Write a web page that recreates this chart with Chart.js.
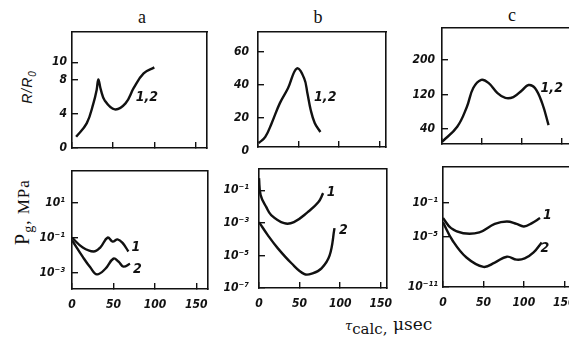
<!DOCTYPE html>
<html><head><meta charset="utf-8">
<script src="https://cdn.jsdelivr.net/npm/chart.js@4"></script>
<style>
html,body{margin:0;padding:0;background:#fff;width:569px;height:341px;overflow:hidden;position:relative}
canvas{position:absolute;background:transparent}
.t{position:absolute;font-family:"Liberation Serif","DejaVu Serif",serif;color:#111;white-space:nowrap;line-height:1}
.c{transform:translate(-50%,-50%)}
.r{transform:translate(-50%,-50%) rotate(-90deg)}
</style></head><body>
<div class="t c" style="left:142px;top:17px;font-size:18px">a</div>
<div class="t c" style="left:318px;top:17px;font-size:18px">b</div>
<div class="t c" style="left:512px;top:15px;font-size:18px">c</div>
<div class="t r" style="left:29px;top:87px;font-size:14px;font-style:italic;font-family:'Liberation Sans',sans-serif;letter-spacing:1px">R/R<sub style="font-size:10px">0</sub></div>
<div class="t r" style="left:24px;top:212px;font-size:17px;letter-spacing:1px"><span style="font-size:20px">P</span><sub style="font-size:14px">g</sub>, MPa</div>
<div class="t" style="left:345px;top:316px;font-family:'DejaVu Serif',serif;font-size:17px"><span style="font-size:13px;font-style:italic">τ</span><sub style="font-size:15px">calc,</sub> μsec</div>
<script>
// ---- data ----
const xTicks = [0, 50, 100, 150];
// top row: R/R0 vs tau (µs)
const tA = [5, 18, 26, 30, 32, 35, 40, 52, 65, 75, 87, 100];
const rA = [1.3, 2.9, 5.2, 6.8, 8.0, 6.8, 5.5, 4.5, 5.2, 7.0, 8.7, 9.4];
const tB = [1, 9, 17, 27, 37, 48, 57, 61, 65, 70, 77];
const rB = [4.8, 8.5, 17, 29, 38, 50, 44, 35, 25, 17, 11.5];
const tC = [0, 19, 31, 39, 49, 58, 69, 79, 89, 100, 108, 116, 125, 133];
const rC = [10, 45, 91, 135, 154, 147, 124, 112, 114, 130, 142, 135, 100, 49];
const yTicksA = [0, 4, 8, 10];
const yTicksB = [0, 20, 40, 60];
const yTicksC = [40, 120, 200];
// bottom row: Pg (MPa), curves 1 and 2
const tPa1 = [0, 13, 26, 34, 43, 49, 55, 61, 68];
const pA1 = [1.0e-1, 2.7e-2, 1.6e-2, 2.7e-2, 1.0e-1, 5.9e-2, 7.9e-2, 5.0e-2, 1.6e-2];
const tPa2 = [0, 13, 22, 30, 40, 50, 56, 62, 70];
const pA2 = [7.1e-2, 7.9e-3, 2.0e-3, 7.9e-4, 1.6e-3, 6.3e-3, 4.3e-3, 2.2e-3, 3.2e-3];
const tPb1 = [0, 2, 9, 15, 31, 43, 60, 73, 79];
const pB1 = [5.5e-1, 5.0e-2, 9.1e-3, 3.0e-3, 9.5e-4, 1.1e-3, 4.5e-3, 1.8e-2, 6.6e-2];
const tPb2 = [0, 11, 23, 40, 56, 66, 77, 87, 93];
const pB2 = [1.1e-3, 1.7e-4, 2.8e-5, 3.3e-6, 7.1e-7, 7.9e-7, 1.6e-6, 1.0e-5, 4.7e-4];
const tPc1 = [0, 10, 25, 45, 64, 79, 91, 100, 110, 120];
const pC1 = [1.6e-3, 1.0e-4, 2.5e-5, 3.2e-5, 3.2e-4, 6.3e-4, 3.2e-4, 1.6e-4, 4.0e-4, 1.6e-3];
const tPc2 = [0, 12, 29, 50, 64, 79, 91, 101, 112, 122];
const pC2 = [5.0e-4, 3.2e-6, 3.2e-8, 2.5e-9, 7.9e-9, 4.0e-8, 1.8e-8, 2.5e-8, 1.3e-7, 2.0e-6];
const pTicksA = [1e1, 1e-1, 1e-3];
const pTicksB = [1e-1, 1e-3, 1e-5, 1e-7];
const pTicksC = [1e-1, 1e-5, 1e-11];

// ---- helpers ----
const SUP = {'-':'⁻','0':'⁰','1':'¹','2':'²','3':'³','4':'⁴','5':'⁵','6':'⁶','7':'⁷','8':'⁸','9':'⁹'};
const pow10 = v => '10' + String(Math.round(Math.log10(v))).split('').map(c => SUP[c]).join('');
const INK = '#111';
const FAM = '"Liberation Sans Narrow","DejaVu Sans Condensed","Liberation Sans",sans-serif';
const tickFont = {family: FAM, size: 12, style: 'italic', weight: 'bold'};
const pts = (xs, ys) => xs.map((x, i) => ({x: x, y: ys[i]}));
const BORDER = {display: true, color: INK, width: 1.6};
const TL = -6; // inward tick marks

const notesPlugin = {
  id: 'notes',
  afterDraw(chart, args, opts) {
    const {ctx, scales} = chart;
    ctx.save();
    ctx.fillStyle = INK;
    ctx.font = 'italic bold 14px ' + FAM;
    ctx.textAlign = 'center';
    ctx.textBaseline = 'middle';
    (opts.items || []).forEach(n => {
      ctx.fillText(n.text, scales.x.getPixelForValue(n.x), scales.y.getPixelForValue(n.y));
    });
    ctx.restore();
  }
};

function panel(box, cfg) {
  const W = 55, H = 26, P = 6;
  const cv = document.createElement('canvas');
  const w = box.r - box.l + W + P, h = box.b - box.t + P + H;
  cv.width = w; cv.height = h;
  cv.style.left = (box.l - W) + 'px';
  cv.style.top = (box.t - P) + 'px';
  document.body.appendChild(cv);
  const chart = new Chart(cv, {
    type: 'line',
    data: {datasets: cfg.series.map(s => ({
      data: s, borderColor: INK, borderWidth: 2.4, pointRadius: 0,
      tension: 0.4, fill: false
    }))},
    options: {
      responsive: false, maintainAspectRatio: false, animation: false, devicePixelRatio: 1,
      layout: {padding: {left: 0, top: P, right: P, bottom: 0}},
      plugins: {legend: {display: false}, tooltip: {enabled: false}, notes: {items: cfg.notes}},
      scales: {
        x: {
          type: 'linear', position: 'bottom', min: 0, max: cfg.xMax,
          grid: {display: true, drawOnChartArea: false, drawTicks: true, tickLength: TL, color: INK, lineWidth: 1.4},
          border: BORDER,
          ticks: {display: cfg.showX, font: tickFont, color: INK, padding: 15, maxRotation: 0, autoSkip: false,
                  callback: v => String(v)},
          afterBuildTicks: s => { s.ticks = xTicks.map(v => ({value: v})); },
          afterFit: s => { s.height = H; }
        },
        y: {
          type: cfg.yType, position: 'left', min: cfg.yMin, max: cfg.yMax,
          grid: {display: true, drawOnChartArea: false, drawTicks: true, tickLength: TL, lineWidth: 1.4,
                 color: c => (c.tick && c.tick.value < cfg.yMin) ? 'rgba(0,0,0,0)' : INK},
          border: BORDER,
          ticks: {font: tickFont, color: INK, padding: cfg.yPad - TL, autoSkip: false,
                  callback: cfg.yType === 'logarithmic' ? (v => pow10(v)) : (v => String(v))},
          afterBuildTicks: s => { s.ticks = cfg.yTicks.map(v => ({value: v})); },
          afterFit: s => { s.width = W; }
        },
        x2: {
          axis: 'x', type: 'linear', position: 'top', min: 0, max: cfg.xMax,
          grid: {display: false}, border: BORDER, ticks: {display: false},
          afterFit: s => { s.height = 0; }
        },
        y2: {
          axis: 'y', type: 'linear', position: 'right', min: 0, max: 1,
          grid: {display: false}, border: BORDER, ticks: {display: false},
          afterFit: s => { s.width = 0; }
        }
      }
    },
    plugins: [notesPlugin]
  });
  // make the plotting area match the target box exactly
  const a0 = chart.chartArea;
  const dw = (box.r - box.l) - (a0.right - a0.left);
  const dh = (box.b - box.t) - (a0.bottom - a0.top);
  if (Math.abs(dw) > 0.5 || Math.abs(dh) > 0.5) {
    chart.resize(Math.round(chart.width + dw), Math.round(chart.height + dh));
  }
  const a = chart.chartArea;
  cv.style.left = Math.round(box.l - a.left) + 'px';
  cv.style.top = Math.round(box.t - a.top) + 'px';
}

// top row
panel({l: 72, t: 32, r: 207, b: 148}, {
  yType: 'linear', yMin: 0, yMax: 13.5, yTicks: yTicksA, yPad: 5, xMax: 164, showX: false,
  series: [pts(tA, rA)], notes: [{text: '1,2', x: 91, y: 5.9}]
});
panel({l: 258, t: 32, r: 386, b: 147}, {
  yType: 'linear', yMin: 2.4, yMax: 72, yTicks: yTicksB, yPad: 9, xMax: 158, showX: false,
  series: [pts(tB, rB)], notes: [{text: '1,2', x: 83, y: 32.7}]
});
panel({l: 442, t: 28, r: 575, b: 144}, {
  yType: 'linear', yMin: 5, yMax: 274, yTicks: yTicksC, yPad: 7, xMax: 166, showX: false,
  series: [pts(tC, rC)], notes: [{text: '1,2', x: 137, y: 135}]
});
// bottom row
panel({l: 72, t: 171, r: 207, b: 289}, {
  yType: 'logarithmic', yMin: Math.pow(10, -3.94), yMax: Math.pow(10, 2.8), yTicks: pTicksA, yPad: 7, xMax: 164, showX: true,
  series: [pts(tPa1, pA1), pts(tPa2, pA2)],
  notes: [{text: '1', x: 77, y: 2.7e-2}, {text: '2', x: 79, y: 1.5e-3}]
});
panel({l: 259, t: 169, r: 386, b: 288}, {
  yType: 'logarithmic', yMin: 1e-7, yMax: Math.pow(10, 0.29), yTicks: pTicksB, yPad: 10, xMax: 157, showX: true,
  series: [pts(tPb1, pB1), pts(tPb2, pB2)],
  notes: [{text: '1', x: 89, y: 7.6e-2}, {text: '2', x: 104, y: 3.5e-4}]
});
panel({l: 443, t: 167, r: 575, b: 287}, {
  yType: 'logarithmic', yMin: 1e-11, yMax: Math.pow(10, 3.25), yTicks: pTicksC, yPad: 5, xMax: 165, showX: true,
  series: [pts(tPc1, pC1), pts(tPc2, pC2)],
  notes: [{text: '1', x: 129, y: 3.5e-3}, {text: '2', x: 126, y: 4.0e-7}]
});
</script>
</body></html>
